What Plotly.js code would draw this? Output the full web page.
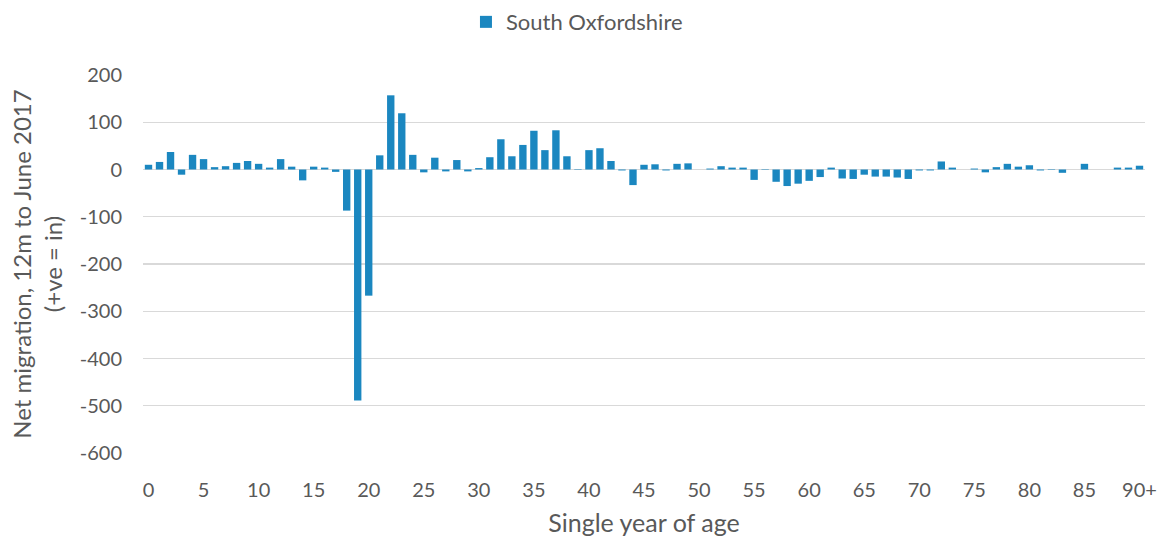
<!DOCTYPE html>
<html>
<head>
<meta charset="utf-8">
<script src="https://cdn.plot.ly/plotly-3.0.1.min.js"></script>
<style>html,body{margin:0;padding:0;background:#fff;}#chart{width:1162px;height:538px;}</style>
</head>
<body>
<div id="chart"></div>
<script>
const ages = ["0","1","2","3","4","5","6","7","8","9","10","11","12","13","14","15","16","17","18","19","20","21","22","23","24","25","26","27","28","29","30","31","32","33","34","35","36","37","38","39","40","41","42","43","44","45","46","47","48","49","50","51","52","53","54","55","56","57","58","59","60","61","62","63","64","65","66","67","68","69","70","71","72","73","74","75","76","77","78","79","80","81","82","83","84","85","86","87","88","89","90+"];
const netMigration = [10,16,37,-11,31,22,5,7,14,18,12,4,22,6,-23,6,4,-5,-87,-489,-267,30,157,119,31,-6,25,-4,20,-4,3,26,64,28,52,82,41,83,28,1,41,45,18,-2,-33,10,11,-2,12,13,0,2,7,4,4,-22,-1,-26,-35,-30,-24,-16,4,-19,-20,-11,-15,-15,-17,-20,-2,-2,17,4,0,2,-6,5,12,6,9,-2,-1,-7,0,12,0,0,4,4,8];
const xTickLabels = ["0","5","10","15","20","25","30","35","40","45","50","55","60","65","70","75","80","85","90+"];
const yTickValues = [-600,-500,-400,-300,-200,-100,0,100,200];
const yTickLabels = ["-600","-500","-400","-300","-200","-100","0","100","200"];
const seriesName = "South Oxfordshire";

const font = "Lato, 'Open Sans', sans-serif";
const trace = {
  type: 'bar', x: ages, y: netMigration, name: seriesName,
  marker: {color: '#1b87c0'}, showlegend: true
};
const layout = {
  width: 1162, height: 538,
  margin: {l: 143, r: 17, t: 75, b: 85, autoexpand: false},
  paper_bgcolor: '#fff', plot_bgcolor: '#fff',
  font: {family: font, color: '#595959', size: 20},
  bargap: 0.33,
  showlegend: true,
  legend: {orientation: 'h', xref: 'container', yref: 'container',
           x: 0.401, xanchor: 'left', y: 0.959, yanchor: 'middle',
           font: {size: 22, color: '#595959'}, itemwidth: 30},
  xaxis: {
    type: 'category', tickmode: 'array', tickvals: xTickLabels, ticktext: xTickLabels,
    ticks: 'outside', ticklen: 19, tickcolor: 'rgba(0,0,0,0)',
    showgrid: false, showline: false, zeroline: false,
    tickfont: {size: 20, color: '#595959'},
    title: {text: 'Single year of age', font: {size: 25, color: '#595959'}, standoff: 14}
  },
  yaxis: {
    range: [-600, 200], tickmode: 'array', tickvals: yTickValues, ticktext: yTickLabels,
    showgrid: true, gridcolor: '#d9d9d9', gridwidth: 1.3,
    zeroline: true, zerolinecolor: '#d9d9d9', zerolinewidth: 1.5,
    ticks: 'outside', ticklen: 16, tickcolor: 'rgba(0,0,0,0)',
    tickfont: {size: 20, color: '#595959'},
    title: {text: 'Net migration, 12m to June 2017<br>(+ve = in)', font: {size: 24, color: '#595959'}, standoff: 10}
  }
};
Plotly.newPlot('chart', [trace], layout, {displayModeBar: false, staticPlot: true});
</script>
</body>
</html>
